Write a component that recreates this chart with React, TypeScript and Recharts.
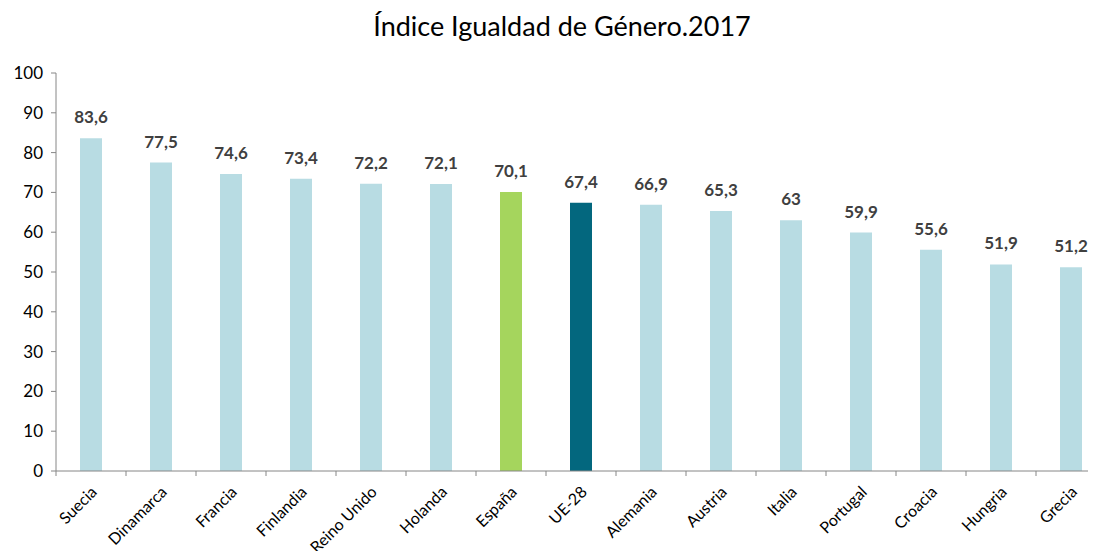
import { Bar, BarChart, Cell, LabelList, XAxis, YAxis } from "recharts";

const paises = [
  "Suecia",
  "Dinamarca",
  "Francia",
  "Finlandia",
  "Reino Unido",
  "Holanda",
  "España",
  "UE-28",
  "Alemania",
  "Austria",
  "Italia",
  "Portugal",
  "Croacia",
  "Hungria",
  "Grecia",
];

const indice = [83.6, 77.5, 74.6, 73.4, 72.2, 72.1, 70.1, 67.4, 66.9, 65.3, 63, 59.9, 55.6, 51.9, 51.2];

const yTicks = [0, 10, 20, 30, 40, 50, 60, 70, 80, 90, 100];

const data = paises.map((name, i) => ({ name, value: indice[i] }));

const FONT = "Lato, 'Open Sans', sans-serif";
const AXIS = "#868686";

function colorFor(name: string) {
  if (name === "España") return "#a5d55d";
  if (name === "UE-28") return "#03677e";
  return "#b8dce3";
}

const fmt = (v: any) => String(v).replace(".", ",");

function XTick(props: any) {
  const { x, y, payload } = props;
  const half = payload?.offset ?? 35;
  const axisY = y - 5;
  const px = x + 7;
  const py = axisY + 22;
  return (
    <g>
      <line x1={x - half} x2={x - half} y1={axisY} y2={axisY + 5} stroke={AXIS} />
      <text
        x={px}
        y={py}
        textAnchor="end"
        transform={`rotate(-45, ${px}, ${py})`}
        fontSize={16}
        fontFamily={FONT}
        fill="#000"
      >
        {payload.value}
      </text>
    </g>
  );
}

export default function App() {
  return (
    <div style={{ margin: -8, width: 1096, height: 559, overflow: "hidden", position: "relative", background: "#fff" }}>
      <div
        style={{
          position: "absolute",
          top: 9,
          left: 0,
          width: 1124,
          textAlign: "center",
          fontFamily: FONT,
          fontSize: 27,
          color: "#000",
        }}
      >
        Índice Igualdad de Género.2017
      </div>
      <BarChart
        width={1110}
        height={559}
        data={data}
        margin={{ top: 73, right: 4, bottom: 0, left: 0 }}
        barSize={22}
      >
        <XAxis
          dataKey="name"
          interval={0}
          height={88}
          tickSize={5}
          tickMargin={0}
          tickLine={false}
          axisLine={{ stroke: AXIS }}
          tick={<XTick />}
        />
        <YAxis
          domain={[0, 100]}
          ticks={yTicks}
          width={56}
          tickSize={5}
          tickMargin={8}
          tickLine={{ stroke: AXIS }}
          axisLine={{ stroke: AXIS }}
          tick={{ fontSize: 17, fontFamily: FONT, fill: "#000" }}
        />
        <Bar dataKey="value" isAnimationActive={false}>
          {data.map((d) => (
            <Cell key={d.name} fill={colorFor(d.name)} />
          ))}
          <LabelList
            dataKey="value"
            position="top"
            offset={15}
            formatter={fmt}
            style={{ fontSize: 17, fontWeight: 700, fontFamily: FONT, fill: "#404040" }}
          />
        </Bar>
      </BarChart>
    </div>
  );
}
